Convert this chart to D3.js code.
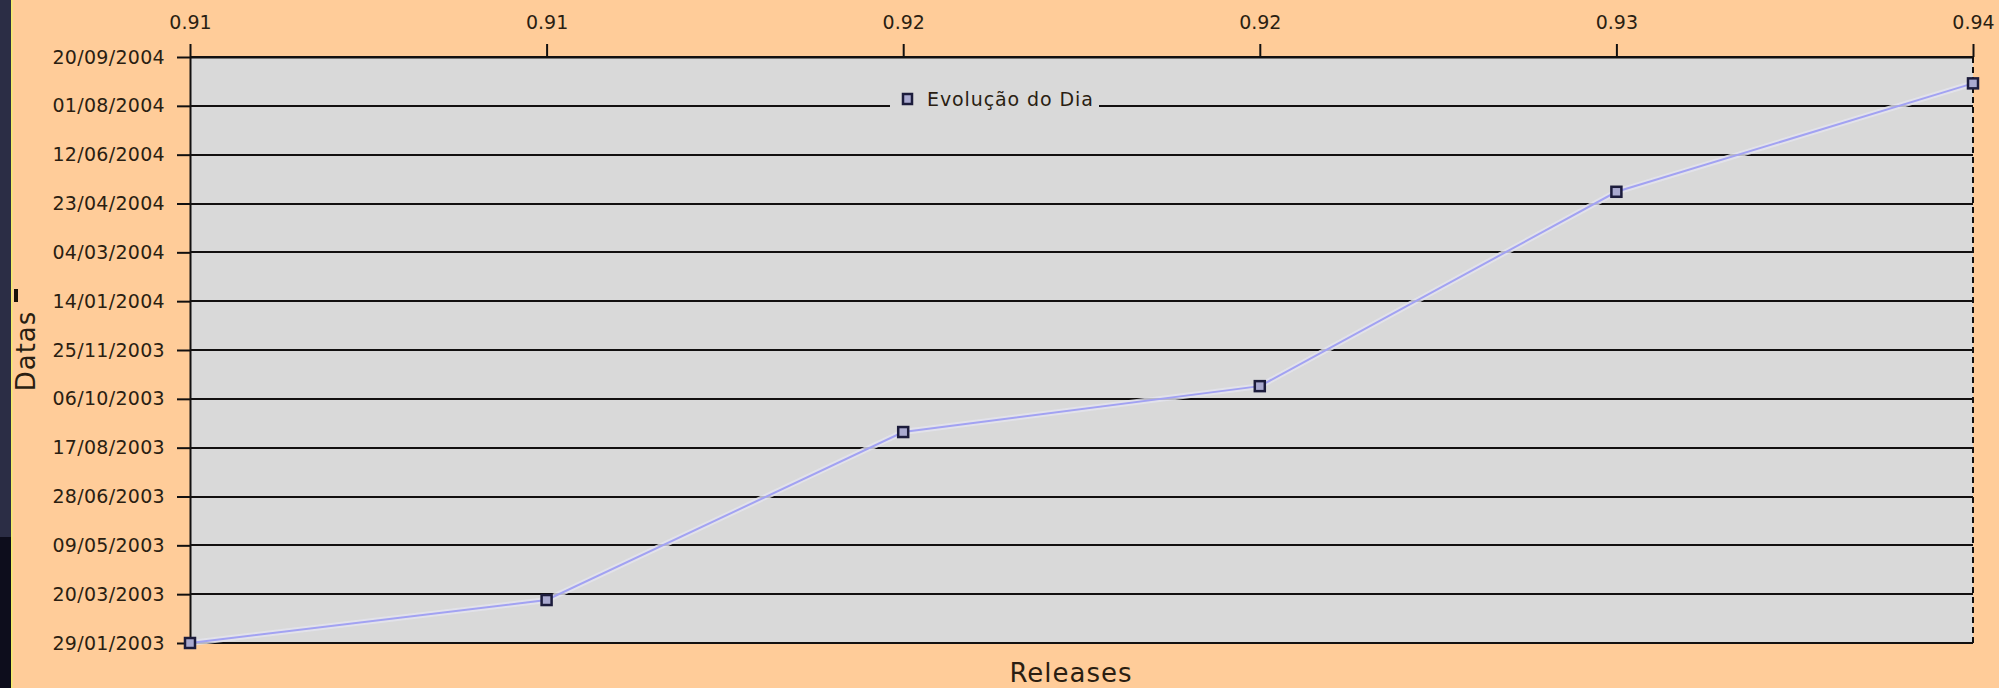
<!DOCTYPE html>
<html>
<head>
<meta charset="utf-8">
<script src="https://cdn.jsdelivr.net/npm/d3@7"></script>
<style>
  html, body { margin: 0; padding: 0; background: #ffcc99; }
  svg { display: block; }
  text { font-family: "DejaVu Sans", Verdana, sans-serif; fill: #2a1e12; }
</style>
</head>
<body>
<svg id="chart" width="1999" height="688"></svg>
<script>
// ---- data ----
const releases = ["0.91", "0.91", "0.92", "0.92", "0.93", "0.94"];
const releaseDates = ["29/01/2003", "14/03/2003", "02/09/2003", "19/10/2003", "05/05/2004", "24/08/2004"];
const yTickLabels = ["29/01/2003", "20/03/2003", "09/05/2003", "28/06/2003", "17/08/2003", "06/10/2003",
                     "25/11/2003", "14/01/2004", "04/03/2004", "23/04/2004", "12/06/2004", "01/08/2004", "20/09/2004"];
const seriesName = "Evolução do Dia";
const xTitle = "Releases";
const yTitle = "Datas";

// ---- setup ----
const W = 1999, H = 688;
const m = { left: 190, right: 1973, top: 57, bottom: 643 };
const parse = d3.utcParse("%d/%m/%Y");
const fmt = d3.utcFormat("%d/%m/%Y");
const svg = d3.select("#chart");

// left dark strip (window frame)
svg.append("rect").attr("x", 0).attr("y", 0).attr("width", 11).attr("height", 537).attr("fill", "#2b2d45");
svg.append("rect").attr("x", 0).attr("y", 537).attr("width", 11).attr("height", H - 537).attr("fill", "#0d0d1c");
svg.append("rect").attr("x", 11).attr("y", 0).attr("width", 1.5).attr("height", H).attr("fill", "#f2ec6a");
svg.append("rect").attr("x", 14).attr("y", 289).attr("width", 4).attr("height", 13).attr("fill", "#1a1208");

const tickDates = yTickLabels.map(parse);
const x = d3.scalePoint().domain(d3.range(releases.length)).range([m.left, m.right]);
const y = d3.scaleUtc().domain([tickDates[0], tickDates[tickDates.length - 1]]).range([m.bottom, m.top]);

// plot area
svg.append("rect")
  .attr("x", m.left).attr("y", m.top)
  .attr("width", m.right - m.left).attr("height", m.bottom - m.top)
  .attr("fill", "#d9d9d9");

// gridlines
svg.append("g").selectAll("line").data(tickDates).join("line")
  .attr("x1", m.left).attr("x2", m.right)
  .attr("y1", d => Math.round(y(d))).attr("y2", d => Math.round(y(d)))
  .attr("stroke", "#121010").attr("stroke-width", 2);

// right dashed border
svg.append("line")
  .attr("x1", m.right).attr("x2", m.right).attr("y1", m.top).attr("y2", m.bottom)
  .attr("stroke", "#121010").attr("stroke-width", 2).attr("stroke-dasharray", "6,4");

// axes
const xAxis = d3.axisTop(x).tickSize(13).tickSizeOuter(0).tickPadding(15).tickFormat(i => releases[i]);
const gx = svg.append("g").attr("transform", `translate(0,${m.top})`).call(xAxis);
const yAxis = d3.axisLeft(y).tickValues(tickDates).tickSize(13).tickSizeOuter(0).tickPadding(12).tickFormat(fmt);
const gy = svg.append("g").attr("transform", `translate(${m.left},0)`).call(yAxis);
[gx, gy].forEach(g => {
  g.select(".domain").attr("stroke", "#121010").attr("stroke-width", 2);
  g.selectAll(".tick line").attr("stroke", "#121010").attr("stroke-width", 2);
  g.selectAll(".tick text").attr("font-size", 19).attr("fill", "#2a1e12")
    .style("font-family", '"DejaVu Sans", Verdana, sans-serif');
});
gy.selectAll(".tick text").attr("letter-spacing", 0.3);

// line + markers
const pts = releaseDates.map((d, i) => ({ i, d: parse(d) }));
const lineGen = d3.line().x(p => x(p.i)).y(p => y(p.d));
svg.append("path").datum(pts).attr("d", lineGen)
  .attr("fill", "none").attr("stroke", "#e4e4ee").attr("stroke-width", 6).attr("opacity", 0.8);
svg.append("path").datum(pts).attr("d", lineGen)
  .attr("fill", "none").attr("stroke", "#a2a2f2").attr("stroke-width", 2);
svg.append("g").selectAll("rect").data(pts).join("rect")
  .attr("x", p => x(p.i) - 5).attr("y", p => y(p.d) - 5)
  .attr("width", 10).attr("height", 10)
  .attr("fill", "#a9a9cf").attr("stroke", "#1c1c3c").attr("stroke-width", 2.5);

// legend
const lg = svg.append("g");
lg.append("rect").attr("x", 890).attr("y", 86).attr("width", 209).attr("height", 26).attr("fill", "#d9d9d9");
lg.append("rect").attr("x", 903).attr("y", 94).attr("width", 9).attr("height", 10)
  .attr("fill", "#a9a9cf").attr("stroke", "#1c1c3c").attr("stroke-width", 2.5);
lg.append("text").attr("x", 927).attr("y", 106).attr("font-size", 19).attr("letter-spacing", 0.9).text(seriesName);

// titles
svg.append("text").attr("x", 1071).attr("y", 682).attr("text-anchor", "middle")
  .attr("font-size", 26).attr("letter-spacing", 1).text(xTitle);
svg.append("text").attr("transform", "translate(35,351) rotate(-90)").attr("text-anchor", "middle")
  .attr("font-size", 26).attr("letter-spacing", 1).text(yTitle);
</script>
</body>
</html>
